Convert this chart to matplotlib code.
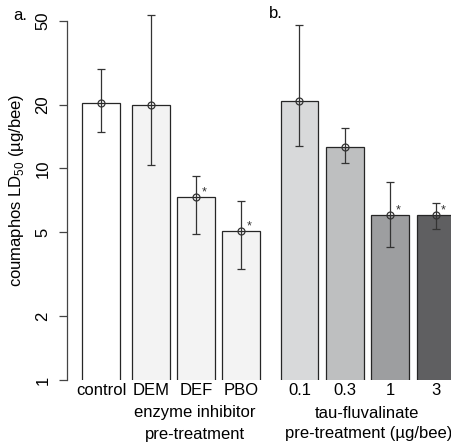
import numpy as np
import matplotlib
matplotlib.use("Agg")
import matplotlib.pyplot as plt

plt.rcParams["font.family"] = ["Liberation Sans", "DejaVu Sans"]
plt.rcParams["mathtext.fontset"] = "custom"
plt.rcParams["mathtext.rm"] = "Liberation Sans"
plt.rcParams["font.size"] = 12

# panel a: enzyme inhibitor pre-treatment
groups_a = ["control", "DEM", "DEF", "PBO"]
ld50_a = [20.3, 20.0, 7.3, 5.05]
upper_a = [29.5, 53.0, 9.2, 7.0]
lower_a = [14.9, 10.4, 4.9, 3.34]
sig_a = [False, False, True, True]
colors_a = ["#ffffff", "#f3f3f3", "#f3f3f3", "#f3f3f3"]

# panel b: tau-fluvalinate pre-treatment
doses_b = ["0.1", "0.3", "1", "3"]
ld50_b = [20.9, 12.7, 6.0, 6.0]
upper_b = [47.8, 15.5, 8.6, 6.9]
lower_b = [12.8, 10.6, 4.27, 5.15]
sig_b = [False, False, True, True]
colors_b = ["#d8d9da", "#bebfc0", "#9d9ea0", "#5f5f61"]

W, H = 452, 444
fig = plt.figure(figsize=(W / 100, H / 100), dpi=100)

unit = 37.8          # px per bar width
decade = 211.5       # px per decade on y
ytop = 10 ** (380 / decade)


def px_axes(left, width):
    return fig.add_axes([left / W, 1 - 380 / H, width / W, 380 / H])


def draw(ax, pos, vals, up, lo, sig, cols, labels):
    ax.bar(pos, vals, width=1.0, bottom=0, color=cols, edgecolor="#262626",
           linewidth=0.9)
    vals = np.array(vals)
    yerr = [vals - np.array(lo), np.array(up) - vals]
    ax.errorbar(pos, vals, yerr=yerr, fmt="o", mfc="none", mec="#333333",
                ms=5, mew=0.9, ecolor="#333333", elinewidth=0.9,
                capsize=3, capthick=0.9)
    for x, v, s in zip(pos, vals, sig):
        if s:
            ax.annotate("*", (x, v), xytext=(4, -1), textcoords="offset points",
                        fontsize=9, ha="left", va="bottom", color="#333333")
    ax.set_yscale("log")
    ax.set_ylim(1, ytop)
    ax.set_xticks(pos)
    ax.set_xticklabels(labels)
    ax.tick_params(axis="x", length=0, pad=2)
    for s in ["top", "right", "bottom"]:
        ax.spines[s].set_visible(False)
    ax.patch.set_alpha(0)


ax_a = px_axes(67, 195)
ax_a.set_xlim(0, 195 / unit)
draw(ax_a, [0.90, 2.23, 3.41, 4.61], ld50_a, upper_a, lower_a, sig_a,
     colors_a, groups_a)
ax_a.set_yticks([1, 2, 5, 10, 20, 50])
ax_a.set_yticklabels(["1", "2", "5", "10", "20", "50"], rotation=90, va="center")
ax_a.yaxis.set_minor_locator(matplotlib.ticker.NullLocator())
ax_a.tick_params(axis="y", length=6, width=0.9, color="#444444", pad=6)
ax_a.spines["left"].set_bounds(1, 50)
ax_a.spines["left"].set_color("#444444")
ax_a.spines["left"].set_linewidth(0.9)

ax_b = px_axes(273, 190)
ax_b.set_xlim(0, 190 / unit)
draw(ax_b, [0.7, 1.9, 3.1, 4.3], ld50_b, upper_b, lower_b, sig_b,
     colors_b, doses_b)
ax_b.set_yticks([])
ax_b.yaxis.set_minor_locator(matplotlib.ticker.NullLocator())
ax_b.spines["left"].set_visible(False)


def ftext(x, y, s, **kw):
    fig.text(x / W, 1 - y / H, s, ha="center", va="center", **kw)


ftext(17, 190, r"coumaphos LD$_{50}$ (µg/bee)", rotation=90)
ftext(195, 412, "enzyme inhibitor")
ftext(195, 434, "pre-treatment")
ftext(367, 413, "tau-fluvalinate")
ftext(369, 433, "pre-treatment (µg/bee)")
ftext(20, 16, "a.")
ftext(276, 13, "b.")

fig.savefig("out.png", dpi=100)
